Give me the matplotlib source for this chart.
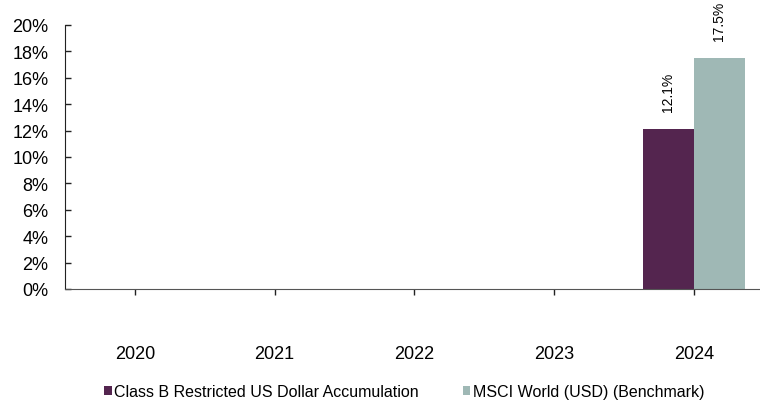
import matplotlib.pyplot as plt
import numpy as np

plt.rcParams['font.family'] = ['Liberation Sans', 'DejaVu Sans']

years = ['2020', '2021', '2022', '2023', '2024']
fund = [np.nan, np.nan, np.nan, np.nan, 12.1]
bench = [np.nan, np.nan, np.nan, np.nan, 17.5]
fund_name = 'Class B Restricted US Dollar Accumulation'
bench_name = 'MSCI World (USD) (Benchmark)'

fig = plt.figure(figsize=(7.6, 4.02), dpi=100)
ax = fig.add_axes([65 / 760, 1 - 290 / 402, 1 - 65 / 760, 264 / 402])

x = np.arange(len(years))
w = 0.365
b1 = ax.bar(x - w / 2, fund, w, color='#54254F', label=fund_name)
b2 = ax.bar(x + w / 2, bench, w, color='#9FB8B5', label=bench_name)

for bars, vals in [(b1, fund), (b2, bench)]:
    for rect, v in zip(bars, vals):
        if np.isnan(v):
            continue
        ax.text(rect.get_x() + rect.get_width() / 2, v + 1.35, f'{v:.1f}%',
                rotation=90, ha='center', va='bottom', fontsize=10)

ax.set_xlim(-0.5, 4.473)
ax.set_ylim(0, 20)
ax.set_yticks(np.arange(0, 21, 2))
ax.set_yticklabels([f'{t}%' for t in range(0, 21, 2)], fontsize=13)
ax.set_xticks(x)
ax.set_xticklabels(years, fontsize=13)
ax.tick_params(axis='y', direction='in', length=4, width=1, pad=12, color='#222222')
ax.tick_params(axis='x', direction='out', length=4, width=1, pad=36, color='#222222')

for s in ['top', 'right']:
    ax.spines[s].set_visible(False)
ax.spines['left'].set_color('#222222')
ax.spines['bottom'].set_color('#555555')

fig.legend(handles=[b1, b2], loc='lower center', bbox_to_anchor=(0.532, 0.0),
           ncol=2, frameon=False, fontsize=11.5, handlelength=0.47, handleheight=0.47,
           handletextpad=0.15, columnspacing=2.75, borderpad=0.1, borderaxespad=0)

fig.savefig('out.png', dpi=100)
